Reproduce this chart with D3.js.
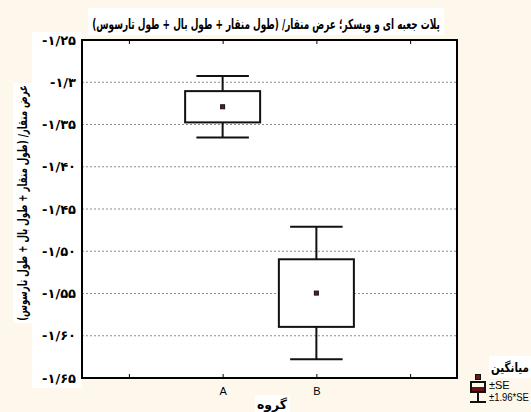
<!DOCTYPE html>
<html><head><meta charset="utf-8">
<script src="https://cdn.jsdelivr.net/npm/d3@7"></script>
<style>body{margin:0;background:#fef8ec}svg{display:block}</style>
</head><body>
<script>
const categories = ["A", "B"];
const categoryPositions = [2, 3];
const xTickValues = [1, 2, 3, 4];
const xTickLabels = ["", "A", "B", ""];
const means = [-1.329, -1.5495];
const standardErrors = [0.0185, 0.0400];
const yTickValues = [-1.25, -1.30, -1.35, -1.40, -1.45, -1.50, -1.55, -1.60, -1.65];
const yTickLabels = ["-۱/۲۵", "-۱/۳", "-۱/۳۵", "-۱/۴۰", "-۱/۴۵", "-۱/۵۰", "-۱/۵۵", "-۱/۶۰", "-۱/۶۵"];
const title = "پلات جعبه ای و ویسکر؛ عرض منقار/ (طول منقار + طول بال + طول تارسوس)";
const yTitle = "عرض منقار/ (طول منقار + طول بال + طول تارسوس)";
const xTitle = "گروه";
const legendLabels = ["میانگین", "±SE", "±1.96*SE"];

const W = 531, H = 412;
const L = 82, R = 457, T = 40, B = 378;
const persianFont = "'DejaVu Sans', sans-serif";

const svg = d3.select("body").append("svg").attr("width", W).attr("height", H);
svg.append("rect").attr("width", W).attr("height", H).attr("fill", "#fef8ec");

const x = d3.scaleLinear().domain([0.5, 4.5]).range([L, R]);
const y = d3.scaleLinear().domain([-1.25, -1.65]).range([T, B]);

// white backgrounds
svg.append("rect").attr("x", 88).attr("y", 8).attr("width", 356).attr("height", 27).attr("fill", "#fff");
svg.append("rect").attr("x", 32).attr("y", 32).attr("width", 50).attr("height", 356).attr("fill", "#fff");
svg.append("rect").attr("x", 13).attr("y", 83).attr("width", 19).attr("height", 240).attr("fill", "#fff");
svg.append("rect").attr("x", L).attr("y", T).attr("width", R - L).attr("height", B - T).attr("fill", "#fff");
svg.append("rect").attr("x", 255).attr("y", 395).attr("width", 35).attr("height", 17).attr("fill", "#fff");
svg.append("rect").attr("x", 489).attr("y", 356).attr("width", 42).attr("height", 22).attr("fill", "#fff");

// grid
svg.append("g").selectAll("line").data(yTickValues.slice(1, -1)).join("line")
  .attr("x1", L).attr("x2", R).attr("y1", d => y(d)).attr("y2", d => y(d))
  .attr("stroke", "#8c8c8c").attr("stroke-width", 1).attr("stroke-dasharray", "2,2");

// axes
const yAxis = d3.axisLeft(y).tickValues(yTickValues).tickSize(0).tickPadding(6)
  .tickFormat((d, i) => yTickLabels[i]);
const gy = svg.append("g").attr("transform", `translate(${L},0)`).call(yAxis);
gy.select(".domain").remove();
gy.selectAll("text").attr("font-family", persianFont).attr("font-size", 13).attr("fill", "#000").attr("font-weight", "bold");

const xAxis = d3.axisBottom(x).tickValues(xTickValues).tickSizeInner(-4).tickSizeOuter(0).tickPadding(9)
  .tickFormat((d, i) => xTickLabels[i]);
const gx = svg.append("g").attr("transform", `translate(0,${B})`).call(xAxis);
gx.select(".domain").remove();
gx.selectAll("line").attr("stroke", "#000");
gx.selectAll("text").attr("font-family", "'Liberation Sans', Arial, sans-serif").attr("font-size", 11).attr("fill", "#000");

const gt = svg.append("g").attr("transform", `translate(0,${T})`)
  .call(d3.axisTop(x).tickValues(xTickValues).tickSizeInner(-4).tickSizeOuter(0).tickFormat(""));
gt.select(".domain").remove();
gt.selectAll("line").attr("stroke", "#000");

// frame
svg.append("rect").attr("x", L).attr("y", T).attr("width", R - L).attr("height", B - T)
  .attr("fill", "none").attr("stroke", "#000").attr("stroke-width", 2);

// boxes
const band = x(1.4) - x(1);
const cap = band * 0.7;
const boxes = svg.append("g").selectAll("g").data(categories.map((c, i) => ({
  c, pos: categoryPositions[i], m: means[i], se: standardErrors[i]
}))).join("g");
boxes.append("line")
  .attr("x1", d => x(d.pos)).attr("x2", d => x(d.pos))
  .attr("y1", d => y(d.m + 1.96 * d.se)).attr("y2", d => y(d.m - 1.96 * d.se))
  .attr("stroke", "#111").attr("stroke-width", 2);
boxes.append("line")
  .attr("x1", d => x(d.pos) - cap).attr("x2", d => x(d.pos) + cap)
  .attr("y1", d => y(d.m + 1.96 * d.se)).attr("y2", d => y(d.m + 1.96 * d.se))
  .attr("stroke", "#111").attr("stroke-width", 2);
boxes.append("line")
  .attr("x1", d => x(d.pos) - cap).attr("x2", d => x(d.pos) + cap)
  .attr("y1", d => y(d.m - 1.96 * d.se)).attr("y2", d => y(d.m - 1.96 * d.se))
  .attr("stroke", "#111").attr("stroke-width", 2);
boxes.append("rect")
  .attr("x", d => x(d.pos) - band).attr("width", 2 * band)
  .attr("y", d => y(d.m + d.se)).attr("height", d => y(d.m - d.se) - y(d.m + d.se))
  .attr("fill", "#fff").attr("stroke", "#111").attr("stroke-width", 2);
boxes.append("rect")
  .attr("x", d => x(d.pos) - 2).attr("y", d => y(d.m) - 2).attr("width", 4).attr("height", 4)
  .attr("fill", "#6b1a1a").attr("stroke", "#111").attr("stroke-width", 1);

// text fitted by horizontal scaling (keeps glyph height like reference's narrow font)
function fitScaled(text, base, target, fontSize, opts = {}) {
  const t = svg.append("text").attr("x", 0).attr("y", 0)
    .attr("text-anchor", opts.anchor || "middle")
    .attr("font-family", opts.family || persianFont)
    .attr("font-weight", opts.weight || "bold")
    .attr("font-size", fontSize).text(text);
  const w = t.node().getComputedTextLength();
  const sx = w > 0 ? target / w : 1;
  t.attr("transform", `${base} scale(${sx},1)`);
  return t;
}
fitScaled(title, "translate(266,29)", 348, 14);
fitScaled(yTitle, "translate(27,203) rotate(-90)", 236, 13);
fitScaled(xTitle, "translate(272,409)", 30, 13);

// legend
fitScaled(legendLabels[0], "translate(491,372)", 38, 13, { anchor: "start" });
svg.append("rect").attr("x", 475.5).attr("y", 374.5).attr("width", 5).attr("height", 5)
  .attr("fill", "#6b1a1a").attr("stroke", "#111").attr("stroke-width", 1);
svg.append("rect").attr("x", 471).attr("y", 387).attr("width", 14).attr("height", 5).attr("fill", "#6b1010");
svg.append("rect").attr("x", 471).attr("y", 382).attr("width", 14).attr("height", 10)
  .attr("fill", "none").attr("stroke", "#111").attr("stroke-width", 2);
svg.append("line").attr("x1", 478).attr("x2", 478).attr("y1", 392).attr("y2", 402).attr("stroke", "#111").attr("stroke-width", 2);
svg.append("line").attr("x1", 470).attr("x2", 486).attr("y1", 402).attr("y2", 402).attr("stroke", "#111").attr("stroke-width", 2);
svg.append("text").attr("x", 489).attr("y", 389).attr("font-family", "'Liberation Sans', Arial, sans-serif")
  .attr("font-size", 11).text(legendLabels[1]);
fitScaled(legendLabels[2], "translate(489,401)", 40, 11,
  { anchor: "start", family: "'Liberation Sans', Arial, sans-serif", weight: "normal" });
</script>
</body></html>
